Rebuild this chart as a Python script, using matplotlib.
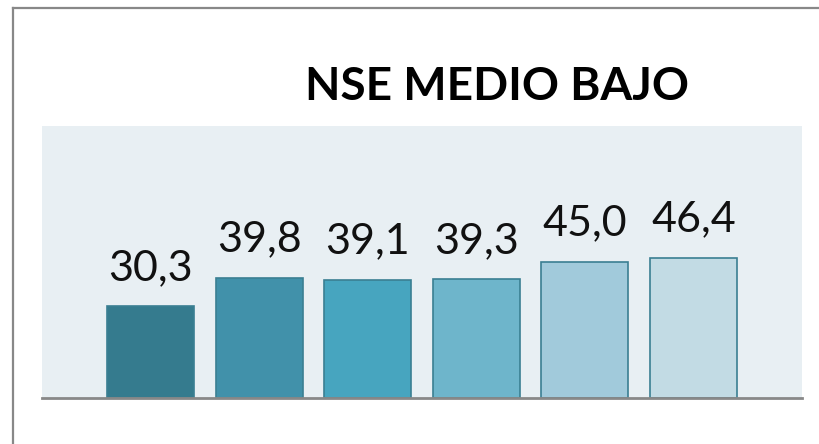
import matplotlib
matplotlib.use('Agg')
import matplotlib.pyplot as plt
from matplotlib.lines import Line2D

title = 'NSE MEDIO BAJO'
values = [30.3, 39.8, 39.1, 39.3, 45.0, 46.4]
labels = ['30,3', '39,8', '39,1', '39,3', '45,0', '46,4']
bar_colors = ['#357b8e', '#4191aa', '#47a5bf', '#6eb5cb', '#a1cadb', '#c2dbe4']
edge_color = '#3a7f92'

W, H = 819, 444
fig = plt.figure(figsize=(W / 100, H / 100), dpi=100)
fig.patch.set_facecolor('white')

# outer frame (only left and top edges visible)
fig.add_artist(Line2D([13 / W, 13 / W], [0, 1 - 8 / H], color='#888888', lw=1.6,
                      transform=fig.transFigure))
fig.add_artist(Line2D([13 / W, 1], [1 - 8 / H, 1 - 8 / H], color='#888888', lw=1.6,
                      transform=fig.transFigure))

ax = fig.add_axes([42 / W, (H - 398) / H, 760 / W, (398 - 126) / H])
ax.set_facecolor('#e8eff3')

x = list(range(len(values)))
bars = ax.bar(x, values, width=0.8, color=bar_colors, edgecolor=edge_color, linewidth=1.2,
              zorder=2)
for xi, v, lab in zip(x, values, labels):
    ax.annotate(lab, (xi, v), xytext=(0, 14), textcoords='offset points',
                ha='center', va='bottom', fontsize=31, family='Lato', color='#111111')

ax.set_xlim(-1, 6)
ax.set_ylim(0, 90)
for s in ['top', 'right', 'left']:
    ax.spines[s].set_visible(False)
ax.spines['bottom'].set_color('#888888')
ax.spines['bottom'].set_linewidth(2)
ax.set_xticks([])
ax.set_yticks([])

fig.text(497 / W, 1 - 87 / H, title, ha='center', va='center', fontsize=33,
         fontweight='bold', family='Lato', color='black')

fig.savefig('out.png', dpi=100)
